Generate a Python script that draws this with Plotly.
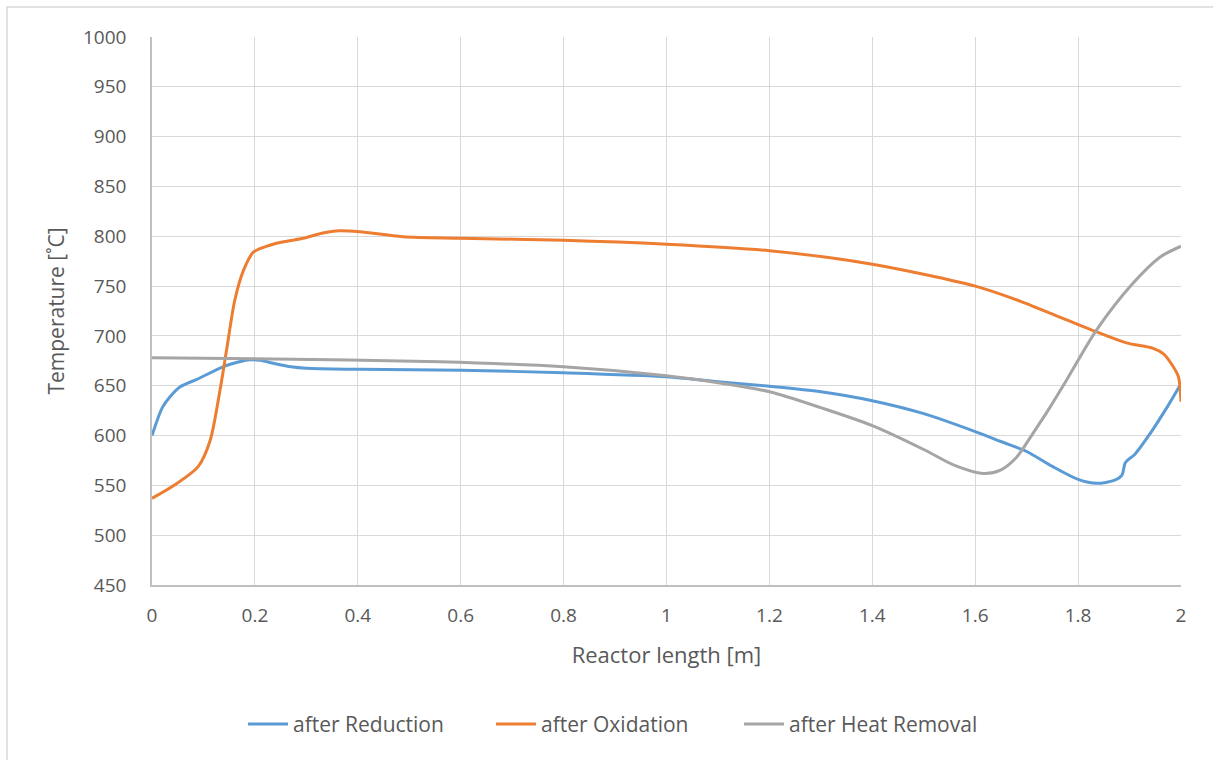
import plotly.graph_objects as go

# after Reduction
red_x = [0, 0.02, 0.035, 0.055, 0.09, 0.138, 0.17, 0.19, 0.21, 0.24, 0.27, 0.30, 0.4, 0.6, 0.8,
         1.0, 1.1, 1.2, 1.3, 1.4, 1.5, 1.6, 1.65, 1.7, 1.75, 1.8, 1.836, 1.87, 1.885, 1.892,
         1.91, 1.94, 1.97, 2.0]
red_y = [600, 628, 639, 649, 657, 669, 674, 676, 675.5, 672, 669, 667.5, 666.5, 665.5, 663,
         659, 654, 649.5, 644, 635, 622, 604, 594, 584, 569, 556, 552, 555, 560, 573,
         581, 602, 626, 652]

# after Oxidation
oxi_x = [0, 0.04, 0.09, 0.113, 0.132, 0.145, 0.161, 0.178, 0.197, 0.229, 0.262, 0.294, 0.33,
         0.365, 0.404, 0.488, 0.6, 0.8, 1.0, 1.2, 1.4, 1.6, 1.687, 1.778, 1.836, 1.894,
         1.946, 1.966, 1.985, 1.995, 2.0]
oxi_y = [537, 549, 569, 595, 645, 686, 736, 766, 784, 791, 795, 798, 803,
         805.5, 804.5, 799.5, 798, 796, 792, 785.5, 772, 750, 735, 716, 704, 693,
         687.5, 682, 669, 659, 634]

# after Heat Removal
heat_x = [0, 0.2, 0.56, 0.8, 1.0, 1.1, 1.2, 1.3, 1.4, 1.5, 1.56, 1.615, 1.648, 1.68, 1.712,
          1.745, 1.778, 1.836, 1.907, 1.959, 2.0]
heat_y = [678, 677, 674, 669, 660, 653, 644, 628, 610, 586, 570, 562, 565, 578, 602,
          628, 656, 706, 753, 779, 790]

x_ticks = [0, 0.2, 0.4, 0.6, 0.8, 1, 1.2, 1.4, 1.6, 1.8, 2]
x_labels = ["0", "0.2", "0.4", "0.6", "0.8", "1", "1.2", "1.4", "1.6", "1.8", "2"]
y_ticks = list(range(450, 1001, 50))

FONT = "Open Sans"
TXT = "#595959"

fig = go.Figure()
for name, xs, ys, col in [
    ("after Reduction", red_x, red_y, "#5B9BD5"),
    ("after Oxidation", oxi_x, oxi_y, "#ED7D31"),
    ("after Heat Removal", heat_x, heat_y, "#A5A5A5"),
]:
    fig.add_trace(go.Scatter(x=xs, y=ys, mode="lines", name=name,
                             line=dict(color=col, width=3, shape="spline", smoothing=0.8)))

fig.update_layout(
    width=1213, height=760,
    margin=dict(l=152, r=32, t=37, b=175, autoexpand=False),
    paper_bgcolor="white", plot_bgcolor="white",
    font=dict(family=FONT, size=19, color=TXT),
    showlegend=True,
    legend=dict(orientation="h", xref="container", yref="container",
                x=0.507, xanchor="center", y=0.047, yanchor="middle",
                font=dict(family=FONT, size=21, color=TXT),
                itemwidth=40, tracegroupgap=0, entrywidth=193),
    shapes=[dict(type="rect", xref="paper", yref="paper",
                 x0=(7 - 152) / 1029, x1=(1216 - 152) / 1029,
                 y0=(585 - 763) / 548, y1=(585 - 7) / 548,
                 line=dict(color="#D9D9D9", width=1.5), layer="below")],
)

fig.update_xaxes(
    range=[0, 2], tickvals=x_ticks, ticktext=x_labels,
    showgrid=True, gridcolor="#D9D9D9", gridwidth=1,
    showline=True, linecolor="#BFBFBF", linewidth=1.5,
    zeroline=False, ticks="", ticklabelstandoff=12,
    tickfont=dict(family=FONT, size=19, color=TXT),
    title=dict(text="Reactor length [m]", font=dict(family=FONT, size=22, color=TXT), standoff=21),
    automargin=False,
)
fig.update_yaxes(
    range=[450, 1000], tickvals=y_ticks,
    showgrid=True, gridcolor="#D9D9D9", gridwidth=1,
    showline=True, linecolor="#BFBFBF", linewidth=1.5,
    zeroline=False, ticks="", ticklabelstandoff=20,
    tickfont=dict(family=FONT, size=19, color=TXT),
    title=dict(text="Temperature [˚C]", font=dict(family=FONT, size=21, color=TXT), standoff=13),
    automargin=False,
)

fig.write_html("out.html")
